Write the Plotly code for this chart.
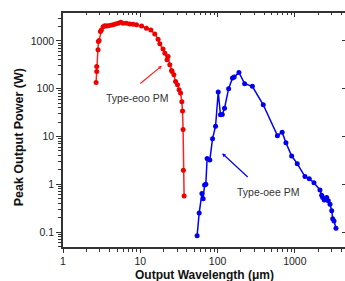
import plotly.graph_objects as go
import numpy as np

# Type-eoo PM (red)
eoo_wl = [2.68, 2.73, 2.73, 2.84, 2.87, 2.93, 3.05, 3.14, 3.30, 3.47, 3.65, 3.83, 4.15, 4.44, 4.77,
          5.16, 5.59, 5.99, 6.63, 7.31, 8.07, 8.93, 10.4, 12.0, 13.7, 15.4, 17.0, 17.9, 19.7, 20.8,
          22.2, 22.9, 24.1, 25.4, 25.8, 27.2, 28.6, 30.3, 31.8, 33.2, 34.5, 35.2, 35.8, 36.1, 36.9]
eoo_pw = [135, 229, 292, 649, 967, 1015, 1562, 1695, 1985, 2080, 2050, 2080, 2120, 2185, 2260,
          2335, 2450, 2335, 2335, 2260, 2230, 2185, 2050, 1840, 1695, 1400, 1085, 866, 672, 554,
          402, 471, 316, 240, 229, 196, 142, 121, 95, 81, 53, 34, 14, 1.96, 0.57]

# Type-oee PM (blue)
oee_wl = [54.4, 57.8, 62.7, 65.1, 67.9, 70.5, 73.3, 79.4, 86.1, 94.2, 102, 109, 115, 123, 139,
          156, 164, 189, 224, 282, 390, 595, 685, 767, 910, 1075, 1352, 1537, 1767, 2113,
          2223, 2291, 2404, 2583, 2710, 2851, 2999, 3090, 3214, 3407]
oee_pw = [0.084, 0.249, 0.64, 0.50, 0.97, 1.0, 3.48, 3.2, 8.96, 16.4, 85, 28.3, 28.8, 38.9, 100,
          167, 175, 219, 127, 112, 46, 10.4, 12.3, 7.4, 3.9, 2.7, 1.45, 1.31, 1.08, 0.76,
          0.59, 0.53, 0.47, 0.53, 0.45, 0.38, 0.28, 0.19, 0.17, 0.12]

x_ticks = [1, 10, 100, 1000]
x_ticklabels = ["1", "10", "100", "1000"]
y_ticks = [0.1, 1, 10, 100, 1000]
y_ticklabels = ["0.1", "1", "10", "100", "1000"]

xr = [0, 3.649]
yr = [-1.3125, 3.583]

x_minor = [m * 10 ** d for d in range(0, 4) for m in range(2, 10)]
y_minor = [m * 10 ** d for d in range(-2, 4) for m in range(2, 10)]

FONT = "Liberation Sans, Arial, sans-serif"
AX = "#333333"

fig = go.Figure()
fig.add_trace(go.Scatter(x=eoo_wl, y=eoo_pw, mode="lines+markers",
                         line=dict(color="#ff2020", width=1.5),
                         marker=dict(color="#ee0000", size=5), showlegend=False))
fig.add_trace(go.Scatter(x=oee_wl, y=oee_pw, mode="lines+markers",
                         line=dict(color="#0000ff", width=1.5),
                         marker=dict(color="#0000ee", size=5), showlegend=False))
fig.add_trace(go.Scatter(x=[], y=[], xaxis="x2", yaxis="y2", showlegend=False))

common = dict(type="log", showgrid=False, zeroline=False, linecolor=AX, linewidth=1.5,
              tickcolor=AX, tickwidth=1.2)

fig.update_layout(
    width=345, height=281,
    margin=dict(l=63, r=0, t=13, b=34),
    plot_bgcolor="white", paper_bgcolor="white",
    font=dict(family=FONT, color="#222222", size=10.5),
    xaxis=dict(**common, range=xr, showline=True, ticks="outside", ticklen=4,
               tickmode="array", tickvals=x_ticks, ticktext=x_ticklabels,
               minor=dict(ticks="outside", ticklen=3, tickcolor=AX, tickmode="array", tickvals=x_minor),
               tickfont=dict(size=10.5, color="#222222")),
    yaxis=dict(**common, range=yr, showline=True, ticks="outside", ticklen=5,
               tickmode="array", tickvals=y_ticks, ticktext=y_ticklabels,
               minor=dict(ticks="outside", ticklen=3, tickcolor=AX, tickmode="array", tickvals=y_minor),
               tickfont=dict(size=10.5, color="#222222")),
    xaxis2=dict(**common, range=xr, overlaying="x", side="top", anchor="y", showline=True,
                ticks="inside", ticklen=4, tickmode="array", tickvals=x_ticks, showticklabels=False,
                minor=dict(ticks="inside", ticklen=2.5, tickcolor=AX, tickmode="array", tickvals=x_minor)),
    yaxis2=dict(**common, range=yr, overlaying="y", side="right", anchor="x", showline=False,
                ticks="inside", ticklen=3, tickmode="array", tickvals=y_ticks, showticklabels=False),
    annotations=[
        dict(text="Peak Output Power (W)", xref="paper", yref="paper",
             x=-0.155, y=0.47, textangle=-90, showarrow=False, xanchor="center", yanchor="middle",
             font=dict(family=FONT, size=12.5, color="#111111", weight="bold")),
        dict(text="Output Wavelength (μm)", xref="paper", yref="paper",
             x=0.5, y=-0.118, showarrow=False, xanchor="center", yanchor="middle",
             font=dict(family=FONT, size=12, color="#111111", weight="bold")),
        dict(text="Type-eoo PM", x=0.955, y=1.8125, xref="x", yref="y", showarrow=False,
             font=dict(family=FONT, size=10.5, color="#333333")),
        dict(text="Type-oee PM", x=2.652, y=-0.167, xref="x", yref="y", showarrow=False,
             font=dict(family=FONT, size=10.5, color="#333333")),
        dict(text="", x=1.279, y=2.479, xref="x", yref="y", ax=-23, ay=19, showarrow=True,
             arrowhead=2, arrowsize=0.6, arrowwidth=1.2, arrowcolor="#ff2020"),
        dict(text="", x=2.060, y=0.646, xref="x", yref="y", ax=27, ay=25, showarrow=True,
             arrowhead=2, arrowsize=0.6, arrowwidth=1.2, arrowcolor="#0000ff"),
    ],
)

fig.write_html("out.html", config={"displayModeBar": False},
               post_script="document.body.style.margin='0';document.body.style.overflow='hidden';")
